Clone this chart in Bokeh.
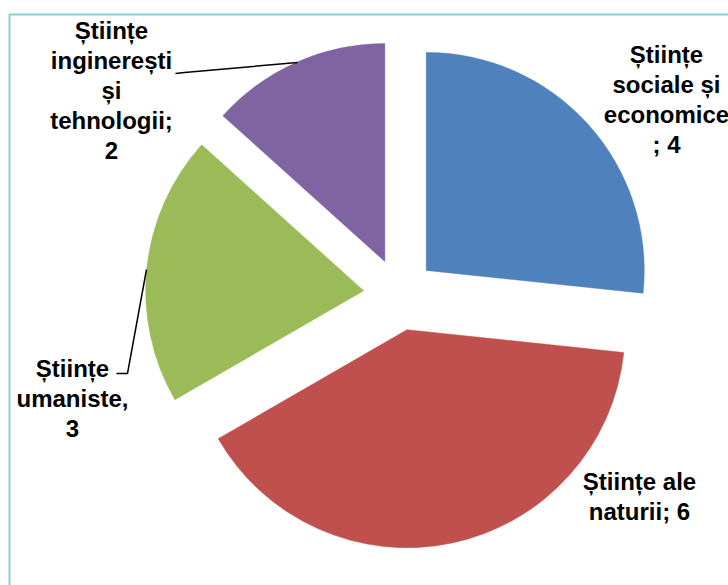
import math
from bokeh.plotting import figure
from bokeh.models import Range1d, ColumnDataSource
from bokeh.embed import file_html
from bokeh.resources import INLINE
from bokeh.core.properties import value

# ---- data ----
categories = ["Științe sociale și economice", "Științe ale naturii",
              "Științe umaniste", "Științe inginerești și tehnologii"]
values = [4, 6, 3, 2]
colors = ["#4F81BD", "#C0504D", "#9BBB59", "#8064A2"]
wrapped_names = ["Științe\nsociale și\neconomice\n", "Științe ale\nnaturii",
                 "Științe\numaniste", "Științe\ninginerești\nși\ntehnologii"]
separators = ["; ", "; ", ",\n", ";\n"]
labels = [w + s + str(v) for w, s, v in zip(wrapped_names, separators, values)]

# ---- layout (page pixels; data y = 585 - page y) ----
W, H = 728, 585
def Y(py):
    return H - py

cx, cy = 399, Y(294)
radius = 218
explode = 36

total = sum(values)
xs, ys, starts, ends = [], [], [], []
cum = 0
for v in values:
    ts = 2 * math.pi * cum / total
    cum += v
    te = 2 * math.pi * cum / total
    mid = (ts + te) / 2
    xs.append(cx + explode * math.sin(mid))
    ys.append(cy + explode * math.cos(mid))
    starts.append(math.pi / 2 - te)
    ends.append(math.pi / 2 - ts)

src = ColumnDataSource(dict(x=xs, y=ys, start=starts, end=ends, color=colors,
                            category=categories, value=values))

p = figure(width=W, height=H, output_backend="svg", toolbar_location=None,
           x_range=Range1d(0, W), y_range=Range1d(0, H), min_border=0)
p.axis.visible = False
p.grid.visible = False
p.outline_line_color = None
p.background_fill_color = "white"
p.border_fill_color = "white"

# chart-area border (left and top edges visible)
p.line(x=[9, 9, 740], y=[-10, Y(14), Y(14)], line_color="#8DCBDF", line_width=2)

p.wedge(x="x", y="y", radius=radius, start_angle="start", end_angle="end",
        direction="anticlock", fill_color="color", line_color="color",
        line_width=0.5, source=src)

# leader lines
p.multi_line(xs=[[175, 184, 297], [116, 127, 146]],
             ys=[[Y(73), Y(72), Y(62)], [Y(373), Y(373), Y(269)]],
             line_color="black", line_width=1.5)

label_x = [666, 639, 72, 111]
label_y = [Y(99), Y(496), Y(398), Y(90)]
lsrc = ColumnDataSource(dict(x=label_x, y=label_y, text=labels))
p.text(x="x", y="y", text="text", source=lsrc, text_align="center",
       text_baseline="middle", text_font=value("Liberation Sans"),
       text_font_style="bold", text_font_size="24px", text_color="black",
       text_line_height=1.12)

open("out.html", "w").write(file_html(p, INLINE))
